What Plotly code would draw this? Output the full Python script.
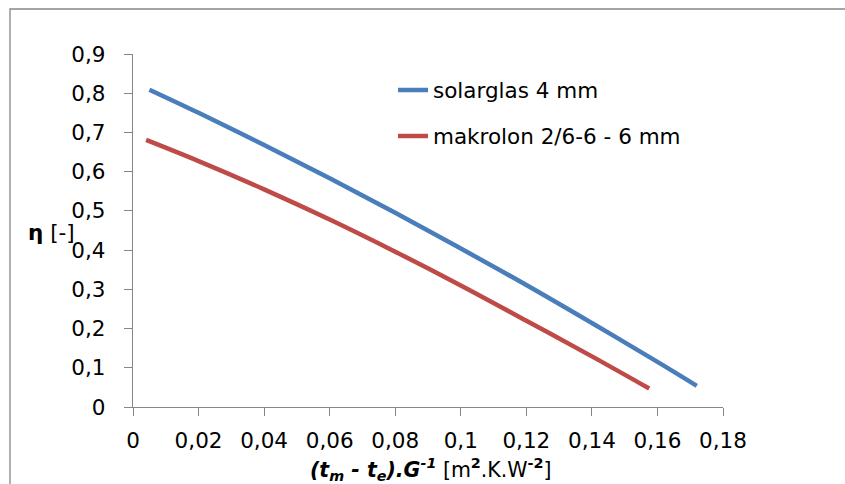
import plotly.graph_objects as go

# data
x_solar = [0.005, 0.02, 0.04, 0.06, 0.08, 0.10, 0.12, 0.14, 0.16, 0.172]
y_solar = [0.809, 0.750, 0.668, 0.583, 0.495, 0.404, 0.311, 0.214, 0.115, 0.054]
x_makro = [0.004, 0.02, 0.04, 0.06, 0.08, 0.10, 0.12, 0.14, 0.1575]
y_makro = [0.681, 0.627, 0.555, 0.478, 0.396, 0.310, 0.220, 0.129, 0.047]
names = ["solarglas 4 mm", "makrolon 2/6-6 - 6 mm"]
x_ticks = [0, 0.02, 0.04, 0.06, 0.08, 0.1, 0.12, 0.14, 0.16, 0.18]
x_ticklabels = ["0", "0,02", "0,04", "0,06", "0,08", "0,1", "0,12", "0,14", "0,16", "0,18"]
y_ticks = [0, 0.1, 0.2, 0.3, 0.4, 0.5, 0.6, 0.7, 0.8, 0.9]
y_ticklabels = ["0", "0,1", "0,2", "0,3", "0,4", "0,5", "0,6", "0,7", "0,8", "0,9"]

W, H = 845, 484
ML, MR, MT, MB = 133, 122, 54, 77
PW, PH = W - ML - MR, H - MT - MB
FONT = "DejaVu Sans"
FS = 21.5
AX = "#868686"

fig = go.Figure()
fig.add_trace(go.Scatter(x=x_solar, y=y_solar, mode="lines", name=names[0],
                         legendgroup="a", line=dict(color="#4A7EBB", width=4.5, shape="spline")))
fig.add_trace(go.Scatter(x=x_makro, y=y_makro, mode="lines", name=names[1],
                         legendgroup="b", line=dict(color="#BE4B48", width=4.5, shape="spline")))

axis_common = dict(showgrid=False, zeroline=False, showline=True, linecolor=AX, linewidth=1.3,
                   ticks="outside", ticklen=8, tickcolor=AX, tickwidth=1.3,
                   tickfont=dict(family=FONT, size=FS, color="black"))
fig.update_xaxes(range=[0, 0.18], tickvals=x_ticks, ticktext=x_ticklabels,
                 ticklabelstandoff=6, **axis_common)
fig.update_yaxes(range=[0, 0.9], tickvals=y_ticks, ticktext=y_ticklabels,
                 ticklabelstandoff=14, **axis_common)

def px_x(p):
    return (p - ML) / PW

def px_y(p):
    return (H - MB - p) / PH

fig.add_annotation(xref="paper", yref="paper", x=px_x(77), y=px_y(232),
                   xanchor="right", yanchor="middle", showarrow=False,
                   text="<b>η</b> [-]", font=dict(family=FONT, size=FS, color="black"))
fig.add_annotation(xref="paper", yref="paper", x=px_x(431), y=px_y(469),
                   xanchor="center", yanchor="middle", showarrow=False,
                   text="<b><i>(t<sub>m</sub> - t<sub>e</sub>).G<sup>-1</sup></i></b> [m<b><sup>2</sup></b>.K.W<b><sup>-2</sup></b>]",
                   font=dict(family=FONT, size=20.5, color="black"))

fig.add_shape(type="rect", xref="paper", yref="paper",
              x0=px_x(10), y0=px_y(9), x1=px_x(W + 20), y1=px_y(H + 20),
              line=dict(color=AX, width=1.3), fillcolor="rgba(0,0,0,0)", layer="below")

fig.update_layout(
    width=W, height=H, autosize=False,
    margin=dict(l=ML, r=MR, t=MT, b=MB),
    paper_bgcolor="white", plot_bgcolor="white",
    showlegend=True,
    legend=dict(x=px_x(393), y=px_y(69.5), xanchor="left", yanchor="top",
                font=dict(family=FONT, size=FS, color="black"),
                bgcolor="rgba(0,0,0,0)", tracegroupgap=15, itemwidth=30),
)

fig.write_html("out.html", config={"displayModeBar": False},
               post_script="document.body.style.margin='0';document.body.style.overflow='hidden';")
